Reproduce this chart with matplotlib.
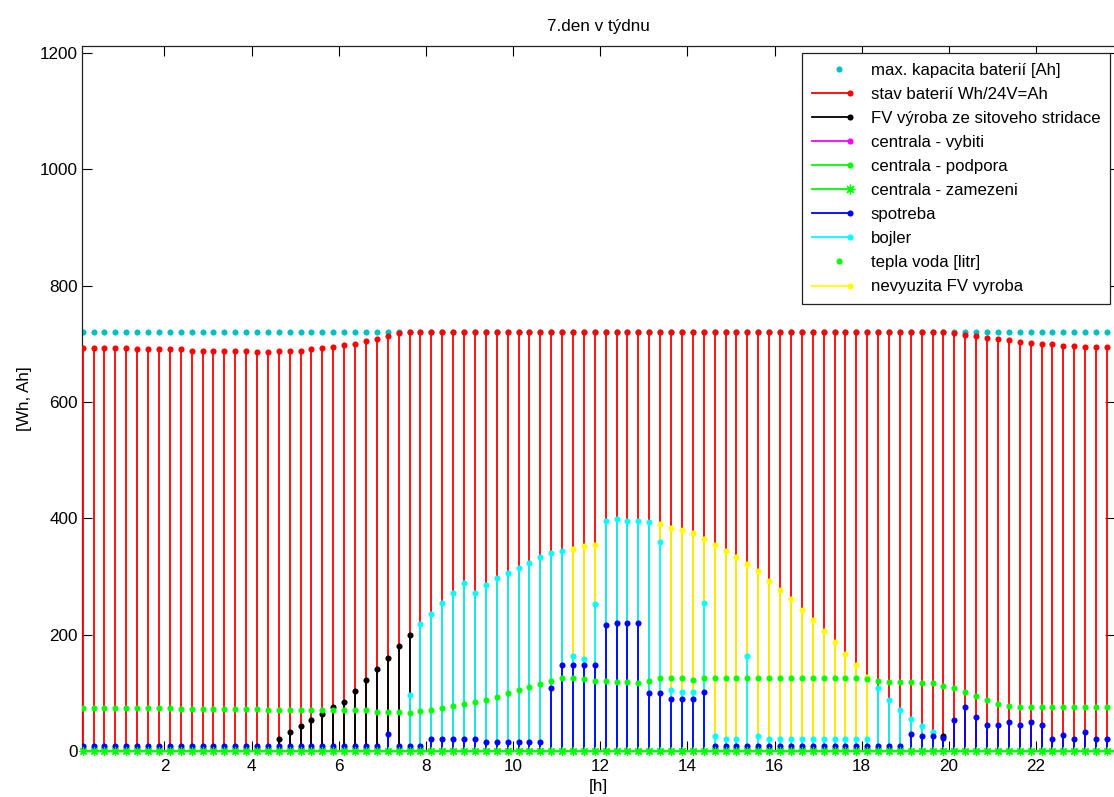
import numpy as np
import matplotlib
matplotlib.use("Agg")
import matplotlib.pyplot as plt
from matplotlib.lines import Line2D
from matplotlib.legend_handler import HandlerBase

plt.rcParams['font.family'] = ['Liberation Sans', 'DejaVu Sans']

# 15-minute steps through the day (95 samples)
hours = np.arange(95) * 0.25 + 0.125

max_kapacita = [720] * 95

stav_baterii = ([692, 693, 693, 693, 693] + [691] * 5 + [688] * 6 + [686, 686]
                + [688, 688, 688, 691, 693, 695, 698, 700, 705, 709, 713, 718]
                + [720] * 50
                + [719, 716, 713, 710, 708, 706, 703, 702, 700, 699, 697, 697, 694, 694, 694])

fv_vyroba = ([0] * 18
             + [21, 32, 43, 53, 63, 75, 85, 103, 122, 141, 160, 180, 200]
             + [0] * 48 + [25] + [0] * 15)

centrala_vybiti = [0] * 95
centrala_podpora = [0] * 95
centrala_zamezeni = [0] * 95

spotreba = ([9] * 28 + [29, 9, 9, 9] + [20] * 5 + [16] * 6
            + [108, 147, 147, 147, 147, 216, 220, 220, 220, 99, 99, 90, 90, 90, 101]
            + [9] * 18
            + [29, 25, 25, 22, 53, 75, 59, 45, 45, 49, 45, 49, 45, 20, 28, 20, 33, 20, 20])

bojler = ([0] * 30
          + [97, 218, 236, 254, 272, 288, 272, 286, 297, 306, 315, 324, 333, 340, 344,
             163, 158, 252, 396, 398, 396, 396, 394, 359, 105, 101, 101, 254, 25, 21, 21, 163, 25]
          + [21] * 10 + [108, 88, 70, 55, 43, 32] + [0] * 16)

tepla_voda = ([74] * 9 + [72] * 8 + [71] + [70] * 9 + [67, 67, 67]
              + [65, 69, 70, 74, 78, 81, 85, 88, 92, 99, 105, 110, 116, 121, 125, 125, 124,
                 121, 121, 118, 118, 117, 121, 125, 125, 125, 122]
              + [125] * 15
              + [124, 121, 119, 119, 119, 117, 117, 112, 108, 101, 94, 88, 81, 78]
              + [76] * 9)

nevyuzita_fv = ([0] * 45 + [348, 353, 355] + [0] * 5
                + [390, 384, 380, 374, 365, 355, 344, 333, 322, 309, 293, 277, 261, 243,
                   225, 207, 187, 167, 147, 128]
                + [0] * 22)

labels = ['max. kapacita baterií [Ah]', 'stav baterií Wh/24V=Ah',
          'FV výroba ze sitoveho stridace', 'centrala - vybiti', 'centrala - podpora',
          'centrala - zamezeni', 'spotreba', 'bojler', 'tepla voda [litr]',
          'nevyuzita FV vyroba']

TEAL = '#00BFBF'
RED = '#FF0000'
GREEN = '#00FF00'
BLUE = '#0000FF'
CYAN = '#00FFFF'
YELLOW = '#FFFF00'
MAGENTA = '#FF00FF'
ASTER = (8, 2, 0)
MS = 4.4
LW = 1.3


def stem(ax, vals, color, z):
    v = np.asarray(vals, dtype=float)
    m = v > 0
    ax.vlines(hours[m], 0, v[m], color=color, lw=LW, zorder=z)
    ax.plot(hours[m], v[m], ls='none', marker='o', ms=MS, color=color, mew=0, zorder=z + 0.5)


class StemHandler(HandlerBase):
    def create_artists(self, legend, orig, xdescent, ydescent, width, height, fontsize, trans):
        y = height / 2 - ydescent
        x0, x1 = -xdescent, width - xdescent
        arts = []
        if orig.get_linestyle() not in ('None', 'none', '', ' '):
            arts.append(Line2D([x0, x1], [y, y], color=orig.get_color(),
                               lw=orig.get_linewidth(), transform=trans))
            mx = x1
        else:
            mx = (x0 + x1) / 2 + 6
        arts.append(Line2D([mx], [y], ls='none', marker=orig.get_marker(),
                           ms=orig.get_markersize(), color=orig.get_color(),
                           mew=orig.get_markeredgewidth(), transform=trans))
        return arts


fig = plt.figure(figsize=(11.14, 7.97), dpi=100)
ax = fig.add_axes([82 / 1114, 1 - 751 / 797, (1115 - 82) / 1114, (751 - 46) / 797])

ax.plot(hours, max_kapacita, ls='none', marker='o', ms=MS, color=TEAL, mew=0, zorder=2)
stem(ax, stav_baterii, RED, 3)
stem(ax, nevyuzita_fv, YELLOW, 4)
stem(ax, fv_vyroba, 'black', 4)
stem(ax, bojler, CYAN, 5)
stem(ax, spotreba, BLUE, 6)
stem(ax, centrala_vybiti, MAGENTA, 6)
stem(ax, centrala_podpora, GREEN, 6)
ax.plot(hours, tepla_voda, ls='none', marker='o', ms=MS, color=GREEN, mew=0, zorder=7)

# zero line and the "zamezeni" asterisks sitting on it
ax.axhline(0, color=GREEN, lw=1.6, zorder=8, clip_on=False)
ax.plot(hours, centrala_zamezeni, ls='none', marker=ASTER, ms=6, mew=0.9,
        color=GREEN, zorder=9, clip_on=False)

ax.set_xlim(0.11, 23.81)
ax.set_ylim(0, 1212)
ax.set_xticks(np.arange(2, 24, 2))
ax.set_yticks(np.arange(0, 1201, 200))
ax.tick_params(direction='in', length=7, width=0.8, top=True, right=True,
               labelsize=12.3, colors='black')
ax.tick_params(axis='x', pad=6)
ax.tick_params(axis='y', pad=3)
for sp in ax.spines.values():
    sp.set_linewidth(0.9)
    sp.set_color('#222222')

fig.text(598 / 1114, 1 - 27 / 797, '7.den v týdnu', ha='center', va='center', fontsize=12.3)
fig.text(598 / 1114, 1 - 787 / 797, '[h]', ha='center', va='center', fontsize=12.3)
fig.text(24 / 1114, 1 - 399 / 797, '[Wh, Ah]', ha='center', va='center',
         rotation=90, fontsize=12.3)

handles = [
    Line2D([], [], ls='none', marker='o', ms=MS, color=TEAL, mew=0),
    Line2D([], [], color=RED, lw=LW, marker='o', ms=MS, mew=0),
    Line2D([], [], color='black', lw=LW, marker='o', ms=MS, mew=0),
    Line2D([], [], color=MAGENTA, lw=LW, marker='o', ms=MS, mew=0),
    Line2D([], [], color=GREEN, lw=LW, marker='o', ms=MS, mew=0),
    Line2D([], [], color=GREEN, lw=LW, marker=ASTER, ms=7, mew=0.9),
    Line2D([], [], color=BLUE, lw=LW, marker='o', ms=MS, mew=0),
    Line2D([], [], color=CYAN, lw=LW, marker='o', ms=MS, mew=0),
    Line2D([], [], ls='none', marker='o', ms=MS, color=GREEN, mew=0),
    Line2D([], [], color=YELLOW, lw=LW, marker='o', ms=MS, mew=0),
]
leg = ax.legend(handles, labels, loc='upper left',
                bbox_to_anchor=(802 / 1114, 1 - 53 / 797), bbox_transform=fig.transFigure,
                borderaxespad=0, fontsize=12.1, handlelength=2.3, handletextpad=1.2,
                labelspacing=0.54, borderpad=0.58, fancybox=False, framealpha=1,
                edgecolor='#222222',
                handler_map={Line2D: StemHandler()})
leg.get_frame().set_linewidth(0.9)
leg.set_zorder(20)

fig.savefig('out.png', dpi=100)
